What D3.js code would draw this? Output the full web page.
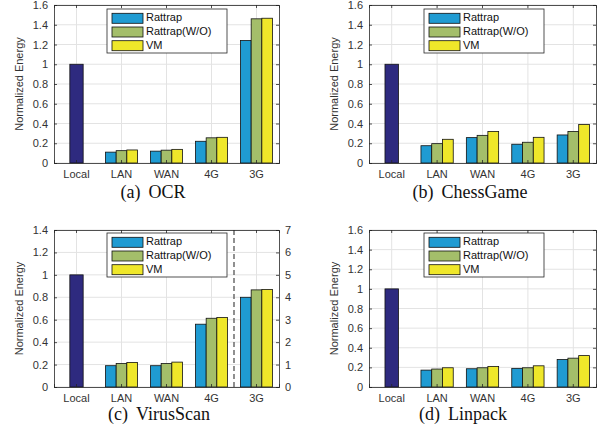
<!DOCTYPE html>
<html><head><meta charset="utf-8">
<script src="https://cdn.jsdelivr.net/npm/d3@7"></script>
<style>body{margin:0;background:#fff}svg{display:block}</style>
</head><body><svg id="c" width="600" height="430"></svg>
<script>
const categories = ["Local","LAN","WAN","4G","3G"];
const seriesNames = ["Rattrap","Rattrap(W/O)","VM"];
const localValues = [1.0, 1.0, 1.0, 1.0];
// values per network category (LAN, WAN, 4G, 3G), each [Rattrap, W/O, VM]
const ocrValues = [[0.11,0.125,0.132],[0.12,0.13,0.138],[0.22,0.255,0.26],[1.24,1.46,1.466]];
const chessValues = [[0.175,0.196,0.24],[0.257,0.28,0.32],[0.19,0.21,0.26],[0.284,0.32,0.39]];
const virusValues = [[0.19,0.21,0.219],[0.19,0.21,0.222],[0.56,0.613,0.62]];
const virus3GRight = [4.0, 4.33, 4.35]; // 3G on right axis (0-7)
const linpackValues = [[0.172,0.183,0.196],[0.186,0.196,0.21],[0.19,0.196,0.216],[0.28,0.294,0.32]];
const titles = ["OCR","ChessGame","VirusScan","Linpack"];
const letters = ["(a)","(b)","(c)","(d)"];
const yTicks16 = [0,0.2,0.4,0.6,0.8,1,1.2,1.4,1.6];
const yTicks14 = [0,0.2,0.4,0.6,0.8,1,1.2,1.4];
const yTicksRight = [0,1,2,3,4,5,6,7];

const colors = {local:"#2e2a7f", s:["#1f9bd2","#a4be6a","#efe72a"]};
const svg = d3.select("#c");
const font = "'Liberation Sans', Arial, sans-serif";

const panels = [
  {x0:54,x1:279,y0:5,y1:163,ymax:1.6,ticks:yTicks16,vals:ocrValues,lx:53,ly:4,tx:153,ty:198},
  {x0:369,x1:596,y0:5,y1:163,ymax:1.6,ticks:yTicks16,vals:chessValues,lx:55,ly:4,tx:470,ty:198},
  {x0:54,x1:279,y0:230,y1:387,ymax:1.4,ticks:yTicks14,vals:virusValues,lx:53,ly:3,tx:159,ty:420,right:true},
  {x0:369,x1:596,y0:230,y1:387,ymax:1.6,ticks:yTicks16,vals:linpackValues,lx:55,ly:3,tx:463,ty:420}
];

panels.forEach((p,i)=>{
  const g = svg.append("g");
  const x = d3.scaleBand().domain(categories).range([p.x0,p.x1]).paddingInner(0).paddingOuter(0);
  const y = d3.scaleLinear().domain([0,p.ymax]).range([p.y1,p.y0]);
  const yR = d3.scaleLinear().domain([0,7]).range([p.y1,p.y0]);
  const bw = x.bandwidth();
  // grid
  g.selectAll(".hg").data(p.ticks).join("line")
    .attr("x1",p.x0).attr("x2",p.x1).attr("y1",d=>y(d)).attr("y2",d=>y(d))
    .attr("stroke","#e3e3e3").attr("stroke-width",1);
  g.selectAll(".vg").data(categories).join("line")
    .attr("x1",d=>x(d)+bw/2).attr("x2",d=>x(d)+bw/2).attr("y1",p.y0).attr("y2",p.y1)
    .attr("stroke","#e3e3e3").attr("stroke-width",1);
  // local bar
  const lw = bw*0.296;
  g.append("rect").attr("x",x("Local")+bw/2-lw/2).attr("width",lw)
    .attr("y",y(localValues[i])).attr("height",y(0)-y(localValues[i]))
    .attr("fill",colors.local).attr("stroke","#111").attr("stroke-width",0.8);
  // grouped bars
  const sub = bw*0.237;
  const groups = categories.slice(1);
  groups.forEach((c,ci)=>{
    let vals = p.vals[ci];
    let sc = y;
    if (p.right && c==="3G") { vals = virus3GRight; sc = yR; }
    vals.forEach((v,si)=>{
      const cx = x(c)+bw/2 + (si-1)*sub;
      g.append("rect").attr("x",cx-sub/2).attr("width",sub)
        .attr("y",sc(v)).attr("height",sc(0)-sc(v))
        .attr("fill",colors.s[si]).attr("stroke","#111").attr("stroke-width",0.8);
    });
  });
  if (p.right) {
    const dx = x("3G");
    g.append("line").attr("x1",dx).attr("x2",dx).attr("y1",p.y0).attr("y2",p.y1)
      .attr("stroke","#555").attr("stroke-width",1.3).attr("stroke-dasharray","5,3");
  }
  // axes box
  const ac = "#262626";
  const left = d3.axisLeft(y).tickValues(p.ticks).tickSize(-3).tickPadding(6).tickFormat(d=>String(+d.toFixed(1)));
  const bottom = d3.axisBottom(x).tickSize(-3).tickPadding(7);
  const top = d3.axisTop(x).tickSize(-3).tickFormat("");
  const right = p.right
    ? d3.axisRight(yR).tickValues(yTicksRight).tickSize(-3).tickPadding(6).tickFormat(d3.format("d"))
    : d3.axisRight(y).tickValues(p.ticks).tickSize(-3).tickFormat("");
  const styleAx = sel => {
    sel.selectAll("path,line").attr("stroke",ac).attr("stroke-width",0.8);
    sel.selectAll("text").attr("fill","#333").attr("font-family",font).attr("font-size",11);
  };
  g.append("g").attr("transform",`translate(${p.x0},0)`).call(left).call(styleAx);
  g.append("g").attr("transform",`translate(0,${p.y1})`).call(bottom).call(styleAx);
  g.append("g").attr("transform",`translate(0,${p.y0})`).call(top).call(styleAx);
  g.append("g").attr("transform",`translate(${p.x1},0)`).call(right).call(styleAx);
  g.selectAll(".domain").attr("stroke",ac).attr("stroke-width",0.8);
  // y label
  g.append("text").attr("transform",`translate(${p.x0-34},${(p.y0+p.y1)/2}) rotate(-90)`)
    .attr("text-anchor","middle").attr("dominant-baseline","middle")
    .attr("font-family",font).attr("font-size",11).attr("fill","#333").text("Normalized Energy");
  // legend
  const lx = p.x0+p.lx, ly = p.y0+p.ly;
  g.append("rect").attr("x",lx).attr("y",ly).attr("width",120).attr("height",44)
    .attr("fill","#fff").attr("stroke","#262626").attr("stroke-width",0.8);
  seriesNames.forEach((s,si)=>{
    const ry = ly + 9.3 + si*13.7;
    g.append("rect").attr("x",lx+5).attr("y",ry-5).attr("width",31).attr("height",10)
      .attr("fill",colors.s[si]).attr("stroke","#111").attr("stroke-width",0.8);
    g.append("text").attr("x",lx+39).attr("y",ry).attr("dominant-baseline","middle")
      .attr("font-family",font).attr("font-size",11).attr("fill","#111").text(s);
  });
  // title
  const t = g.append("text").attr("x",p.tx).attr("y",p.ty).attr("text-anchor","middle")
    .attr("font-family","'Liberation Serif','Times New Roman',serif").attr("font-size",18).attr("fill","#111");
  t.append("tspan").text(letters[i]);
  t.append("tspan").attr("dx",8).text(titles[i]);
});
</script></body></html>
